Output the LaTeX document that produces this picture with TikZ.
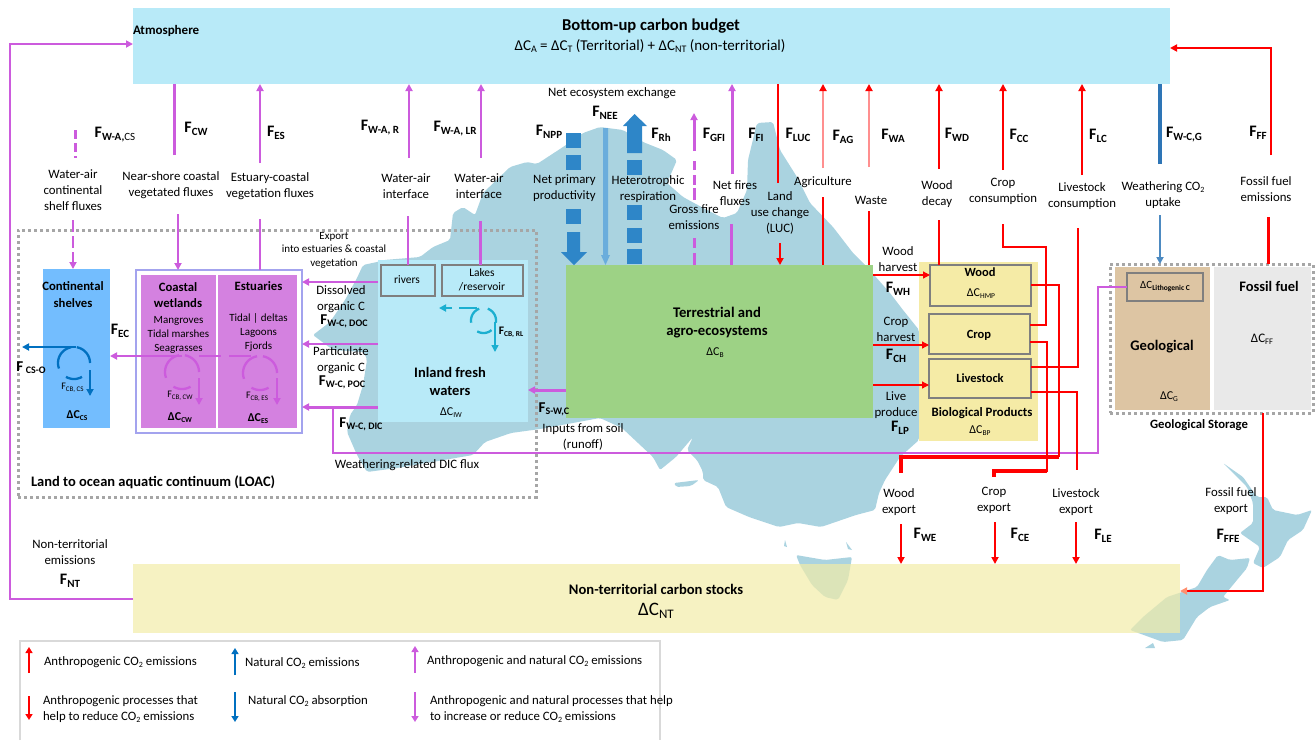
\documentclass[tikz,border=0pt]{standalone}
\usepackage{fontspec}
\setmainfont{Carlito}
\usetikzlibrary{arrows.meta,calc}
\definecolor{atmc}{HTML}{B8EAF8}
\definecolor{mapc}{HTML}{AAD3E0}
\definecolor{greenc}{HTML}{9DD285}
\definecolor{bpc}{HTML}{F5EBA6}
\definecolor{ntc}{HTML}{F2ECA8}
\definecolor{puc}{HTML}{CC5BDD}
\definecolor{bluec}{HTML}{2E86C8}
\definecolor{lblue}{HTML}{6AADDC}
\definecolor{shelfc}{HTML}{73BDFE}
\definecolor{wetc}{HTML}{D481E0}
\definecolor{framec}{HTML}{A3A3EE}
\definecolor{grayc}{HTML}{7F7F7F}
\definecolor{dotc}{HTML}{A6A6A6}
\definecolor{geoc}{HTML}{DDC5A3}
\definecolor{fossc}{HTML}{E9E9E9}
\definecolor{palered}{HTML}{FF8F8F}
\definecolor{tealc}{HTML}{1BAFD0}
\definecolor{wblue}{HTML}{2E75B6}
\definecolor{orangetip}{HTML}{FF9070}
\definecolor{legc}{HTML}{D9D9D9}
\definecolor{legblue}{HTML}{0070C0}
\newcommand{\FX}[1]{{\bfseries\fontsize{16}{16}\selectfont F\raisebox{-3pt}{\fontsize{11}{11}\selectfont #1}}}
\newcommand{\FS}[1]{{\fontsize{10}{10}\selectfont F\raisebox{-2pt}{\fontsize{7}{7}\selectfont #1}}}
\newcommand{\DC}[1]{{\fontsize{12}{12}\selectfont ΔC\raisebox{-2pt}{\fontsize{7.5}{7.5}\selectfont #1}}}
\newcommand{\COtwo}{CO\raisebox{-2pt}{\fontsize{8}{8}\selectfont 2}}
\newcounter{fs}
\newcommand{\seg}[5]{\stepcounter{fs}\coordinate (fa\thefs) at (#2,#3);\coordinate (fb\thefs) at (#4,#5);\draw[#1] (fa\thefs) -- (fb\thefs);}
\newcommand{\vc}[5]{\coordinate (#2) at (#3,#4);\draw[#1] (#2) -- (#5 -| #2);}
\newcommand{\hc}[5]{\coordinate (#2) at (#3,#4);\draw[#1] (#2) -- (#5 |- #2);}
\newcommand{\bxn}[6]{\node[#1,minimum width={(#5-#3)*1pt},minimum height={(#6-#4)*1pt}] (#2) at ({(#3+#5)/2},{(#4+#6)/2}) {};}
\newcommand{\tx}[4]{\node[txt] (#1) at (#2,#3) {#4};}
\newcommand{\cyc}[6]{\draw[#1,line width=2.3pt,domain=#5:#6,samples=14] plot ({#2+#4*cos(\x)},{#3-#4*sin(\x)});}
\tikzset{
  x=1pt,y=-1pt,
  every node/.style={inner sep=0pt,outer sep=0pt},
  txt/.style={font=\fontsize{12.8}{16}\selectfont,align=center,text=black},
  small/.style={font=\fontsize{11}{13.5}\selectfont,align=center,text=black},
  boldt/.style={font=\bfseries\fontsize{12.7}{16.5}\selectfont,align=center,text=black},
  grayb/.style={draw=grayc,line width=2.5pt,fill=#1},
  ptip/.style={-{Triangle[length=7pt,width=7pt]}},
  pu/.style={puc,line width=2.3pt},
  pua/.style={pu,ptip},
  puf/.style={puc,line width=3pt},
  rd/.style={red,line width=2pt},
  rda/.style={rd,-{Triangle[length=7pt,width=7pt]}},
  rdthin/.style={red,line width=1.2pt},
  rdthina/.style={rdthin,-{Triangle[length=7pt,width=7pt]}},
  rdthick/.style={red,line width=3.4pt},
  pale/.style={palered,line width=1.8pt,-{Triangle[length=7pt,width=7pt,color=red]}},
  dotb/.style={draw=dotc,line width=3pt,dash pattern=on 3pt off 3pt},
  lg/.style={line width=2.2pt,-{Triangle[length=6pt,width=7pt]}},
  leg/.style={font=\fontsize{12.8}{16}\selectfont,anchor=west,align=left},
  landm/.style={fill=mapc,rounded corners=2pt},
}
\begin{document}
\begin{tikzpicture}
\useasboundingbox (0,0) rectangle (1315,740);
% ---- map ----
\fill[landm] (377,262)--(384,260)--(420,257)--(433,247)--(450,240)--(453,213)--(463,207)--(475,215)--(483,193)--(510,167)--(527,162)--(537,164)--(563,147)--(583,133)--(600,127)--(623,130)--(643,142)--(663,150)--(677,160)--(667,183)--(683,197)--(707,210)--(723,218)--(737,213)--(747,190)--(748,160)--(757,123)--(773,122)--(780,150)--(797,177)--(810,203)--(833,227)--(853,253)--(867,267)--(890,293)--(903,310)--(919,330)--(919,440)--(900,457)--(885,480)--(879,493)--(875,510)--(856,515)--(821,527)--(798,523)--(779,527)--(749,517)--(726,507)--(718,487)--(703,480)--(703,472)--(697,460)--(687,450)--(693,437)--(676,457)--(660,470)--(653,457)--(638,443)--(622,428)--(600,418)--(540,429)--(511,433)--(485,442)--(473,455)--(397,468)--(367,472)--(357,455)--(347,432)--(350,415)--(357,405)--(363,385)--(367,360)--(364,352)--(333,350)--(313,335)--(330,322)--(345,300)--(357,278)--(363,265)--cycle;
\fill[landm] (674,483)--(699,480)--(691,486)--(676,487)--cycle;
\fill[mapc] (785,540)--(787,547)--(784,546)--cycle;
\fill[mapc] (846,542)--(852,550)--(848,549)--cycle;
\fill[landm] (796,555)--(825,560)--(852,557)--(848,580)--(838,600)--(825,597)--(812,585)--(800,565)--cycle;
\fill[landm] (1223,463)--(1243,477)--(1257,497)--(1267,497)--(1273,510)--(1297,515)--(1312,510)--(1303,530)--(1288,540)--(1280,557)--(1263,568)--(1253,563)--(1260,547)--(1240,533)--(1253,523)--(1253,503)--(1247,487)--(1228,468)--cycle;
\fill[landm] (1218,555)--(1230,560)--(1250,558)--(1247,568)--(1237,580)--(1223,597)--(1230,600)--(1210,607)--(1197,617)--(1183,640)--(1163,642)--(1130,630)--(1143,617)--(1167,597)--(1197,587)--(1207,570)--cycle;
\fill[mapc] (1145,648)--(1153,643)--(1155,648)--cycle;
% ---- boxes ----
\bxn{fill=atmc}{atm}{133}{8}{1170}{84}
\bxn{fill=ntc,fill opacity=.7}{ntb}{133}{564}{1180}{633}
\bxn{fill=atmc}{inl}{378}{260}{528}{422}
\bxn{fill=greenc}{terr}{566}{265}{873}{418}
\bxn{fill=bpc}{bio}{919}{262}{1038}{441}
\bxn{fill=shelfc}{shelf}{43}{269}{110}{428}
\bxn{draw=framec,line width=2.5pt,fill=white}{vegf}{136}{270}{302}{433}
\bxn{fill=wetc}{wet}{141}{275}{216}{428}
\bxn{fill=wetc}{est}{218}{275}{297}{428}
\bxn{grayb=atmc}{riv}{381}{265}{435}{296}
\bxn{grayb=atmc}{lake}{442}{265}{523}{296}
\bxn{grayb=bpc}{wood}{930}{265}{1031}{306}
\bxn{grayb=bpc}{crop}{929}{314}{1030}{354}
\bxn{grayb=bpc}{live}{929}{359}{1031}{398}
\bxn{fill=geoc}{geo}{1115}{267}{1210}{410}
\bxn{fill=fossc}{foss}{1214}{267}{1311}{410}
\bxn{grayb=geoc}{lith}{1127}{273}{1203}{301}
\bxn{dotb}{loac}{18}{230}{536}{497}
\bxn{dotb}{gstore}{1110}{264}{1313}{413}
% ---- left return line ----
\coordinate (ntA) at (10,599);\coordinate (ntB) at (10,44);
\draw[pu,ptip] (ntb.west |- ntA) -- (ntA) -- (ntB) -- (atm.west |- ntB);
% ---- water-air fluxes ----
\seg{puf,dash pattern=on 9pt off 4pt}{75}{130}{75}{158}
\vc{pu,ptip,dash pattern=on 12pt off 4pt}{lcs}{73}{220}{shelf.north}
\vc{pu,line width=3pt}{ucw}{174}{155}{atm.south}
\vc{pua}{lcw}{178}{214}{vegf.north}
\vc{pua}{ues}{260}{163}{atm.south}
\vc{pu}{les}{260}{219}{vegf.north}
\vc{pua}{ur}{409}{158}{atm.south}
\vc{pu}{lr}{408}{216}{riv.north}
\vc{pua}{ulr}{481}{158}{atm.south}
\vc{puf}{llr}{480}{221}{lake.north}
% ---- lateral ----
\hc{pua}{doc}{378}{282}{vegf.east}
\hc{pua}{poc}{378}{344}{vegf.east}
\hc{pua,line width=3pt}{dic}{378}{407}{vegf.east}
\coordinate (wrA) at (1098,287);\coordinate (wrB) at (1098,453);\coordinate (wrC) at (333,453);\coordinate (wrD) at (333,407);
\draw[pu] (lith.west |- wrA) -- (wrA) -- (wrB) -- (wrC) -- (wrD);
\coordinate (sw) at (566,390);
\draw[pua,line width=3pt] (terr.west |- sw) -- (inl.east |- sw);
% ---- carbon burial cycles ----
\coordinate (ecR) at (182,356);
\draw[pua] (ecR) -- (shelf.east |- ecR);
\seg{pu}{199}{356}{221}{356}
\seg{pu}{229}{356}{251}{356}
\cyc{puc}{182}{372}{17}{100}{200}
\cyc{puc}{182}{372}{17}{240}{300}
\cyc{puc}{182}{372}{17}{80}{0}
\seg{pu,line width=1.8pt,ptip}{199}{378}{199}{405}
\cyc{puc}{260}{373}{17}{100}{200}
\cyc{puc}{260}{373}{17}{240}{300}
\cyc{puc}{260}{373}{17}{80}{0}
\seg{pu,line width=1.8pt,ptip}{277}{378}{277}{405}
\cyc{legblue}{74}{363}{16}{100}{200}
\cyc{legblue}{74}{363}{16}{240}{300}
\cyc{legblue}{74}{363}{16}{80}{0}
\seg{legblue,line width=2.3pt,ptip}{90}{370}{90}{396}
\seg{legblue,line width=2.5pt,ptip}{76}{347}{22}{347}
\cyc{tealc}{483.5}{320.5}{12.5}{110}{190}
\cyc{tealc}{483.5}{320.5}{12.5}{240}{310}
\cyc{tealc}{483.5}{320.5}{12.5}{70}{-10}
\seg{tealc,line width=2.3pt}{459}{308}{477}{308}
\seg{tealc,line width=2.3pt,ptip}{452}{308}{439}{308}
\seg{tealc,line width=1.6pt,ptip}{495}{322}{495}{352}
% ---- NPP / Rh / NEE ----
\foreach \a/\b in {133/148,155/170,209/224}{\fill[bluec] (566,\a) rectangle (581,\b);}
\fill[bluec] (567,232)--(580,232)--(580,252)--(587,252)--(574,265)--(561,252)--(567,252)--cycle;
\foreach \a/\b in {160/175,205/220,228/243,249/264}{\fill[bluec] (627,\a) rectangle (642,\b);}
\fill[bluec] (627,153)--(642,153)--(642,126)--(647,126)--(634.5,114)--(623,126)--(627,126)--cycle;
\fill[lblue] (603,128)--(608,128)--(608,255)--(610,255)--(605.5,265)--(601,255)--(603,255)--cycle;
% ---- fire ----
\seg{pu,line width=3pt,ptip}{694}{151}{694}{113}
\seg{puf}{694}{161}{694}{170}
\seg{puf}{694}{175}{694}{185}
\seg{puf}{694}{188}{694}{200}
\seg{puf}{694}{238}{694}{248}
\vc{puf}{lgf}{694}{253}{terr.north}
\vc{pu,line width=3pt,ptip}{ufi}{732}{174}{atm.south}
\vc{puf}{lfi}{731}{224}{terr.north}
% ---- red emissions ----
\vc{rd}{uluc}{778}{183}{atm.south}
\vc{rda}{lluc}{780}{243}{terr.north}
\vc{pale}{uag}{823}{168}{atm.south}
\vc{rdthin}{lag}{823}{197}{terr.north}
\vc{pale}{uwa}{869}{167}{atm.south}
\vc{rdthin}{lwa}{869}{211}{terr.north}
\vc{rda}{uwd}{939}{169}{atm.south}
\vc{rd}{lwd}{939}{220}{wood.north}
\vc{rda}{ucc}{1003}{170}{atm.south}
\vc{rda}{ulc}{1082}{175}{atm.south}
\coordinate (ccA) at (1003,224);\coordinate (ccB) at (1003,247);\coordinate (ccC) at (1046,247);\coordinate (ccD) at (1046,325);
\draw[rd] (ccA) -- (ccB) -- (ccC) -- (ccD) -- (crop.east |- ccD);
\coordinate (lcA) at (1078,228);\coordinate (lcB) at (1078,367);
\draw[rd] (lcA) -- (lcB) -- (live.east |- lcB);
\vc{wblue,line width=3.6pt}{uwg}{1160}{164}{atm.south}
\vc{wblue!85!white,line width=2pt,ptip}{lwg}{1160}{215}{gstore.north}
\coordinate (ffA) at (1271,155);\coordinate (ffB) at (1271,48);
\draw[rda] (ffA) -- (ffB) -- (atm.east |- ffB);
\vc{rd,line width=3pt}{lff}{1268}{217}{gstore.north}
% ---- harvest ----
\hc{rdthina}{wh}{873}{275}{wood.west}
\hc{rdthina}{ch}{873}{345}{crop.west}
\hc{rdthina}{lp}{873}{385}{live.west}
% ---- exports ----
\coordinate (weA) at (1059,285);\coordinate (weB) at (1059,457);\coordinate (weC) at (901,457);\coordinate (weD) at (901,473);
\draw[rd] (wood.east |- weA) -- (weA) -- (weB);
\draw[rdthick] (weB) -- (weC) -- (weD);
\coordinate (ceA) at (1047,342);\coordinate (ceB) at (1047,471);\coordinate (ceC) at (994,471);\coordinate (ceD) at (994,477);
\draw[rd] (crop.east |- ceA) -- (ceA) -- (ceB) -- (ceC);
\draw[rdthick] (ceB) -- (ceC) -- (ceD);
\coordinate (leA) at (1077,392);\coordinate (leB) at (1077,470);
\draw[rd] (live.east |- leA) -- (leA) -- (leB);
\vc{rda}{we}{901}{524}{ntb.north}
\vc{rda}{ce}{995}{522}{ntb.north}
\vc{rda}{le}{1076}{522}{ntb.north}
\coordinate (ffeA) at (1263,413);\coordinate (ffeB) at (1263,591);
\draw[red,line width=2.5pt,-{Triangle[length=7pt,width=7pt,color=orangetip]}] (gstore.south -| ffeA) -- (ffeB) -- (ntb.east |- ffeB);
% ---- legend ----
\coordinate (lgA) at (20,740);\coordinate (lgB) at (20,641);\coordinate (lgC) at (660,641);\coordinate (lgD) at (660,740);
\draw[legc,line width=2pt] (lgA) -- (lgB) -- (lgC) -- (lgD);
\seg{red,lg}{29}{673}{29}{647}
\seg{legblue,lg}{235}{675}{235}{648}
\seg{puc,lg}{415}{673}{415}{646}
\seg{red,lg}{29}{696}{29}{720}
\seg{legblue,lg}{235}{692}{235}{722}
\seg{puc,lg}{415}{692}{415}{722}
% ---- top text ----
\node[font=\bfseries\fontsize{16.6}{16.6}\selectfont] (t1) at (651,26) {Bottom-up carbon budget};
\node[font=\fontsize{15}{15}\selectfont] (t2) at (650,46) {ΔC\raisebox{-2pt}{\fontsize{10}{10}\selectfont A} = ΔC\raisebox{-2pt}{\fontsize{10}{10}\selectfont T} (Territorial) + ΔC\raisebox{-2pt}{\fontsize{10}{10}\selectfont NT} (non-territorial)};
\node[font=\bfseries\fontsize{13}{13}\selectfont,anchor=west] (t3) at (133,31) {Atmosphere};
\node[font=\bfseries\fontsize{14.6}{14.6}\selectfont] (n1) at (656,589) {Non-territorial carbon stocks};
\node[font=\fontsize{19}{19}\selectfont] (n2) at (656,611) {ΔC\raisebox{-3pt}{\fontsize{13}{13}\selectfont NT}};
% ---- flux symbols ----
\tx{f01}{115}{135}{\FX{W-A,{\mdseries CS}}}
\tx{f02}{196}{129}{\FX{CW}}
\tx{f03}{276}{133}{\FX{ES}}
\tx{f04}{380}{128}{\FX{W-A, R}}
\tx{f05}{455}{129}{\FX{W-A, LR}}
\tx{f06}{549}{132}{\FX{NPP}}
\tx{f07}{605}{113}{\FX{NEE}}
\tx{f08}{661}{135}{\FX{Rh}}
\tx{f09}{714}{135}{\FX{GFI}}
\tx{f10}{756}{135}{\FX{FI}}
\tx{f11}{798}{135}{\FX{LUC}}
\tx{f12}{843}{137}{\FX{AG}}
\tx{f13}{893}{136}{\FX{WA}}
\tx{f14}{957}{135}{\FX{WD}}
\tx{f15}{1019}{136}{\FX{CC}}
\tx{f16}{1098}{136}{\FX{LC}}
\tx{f17}{1184}{135}{\FX{W-C,G}}
\tx{f18}{1258}{133}{\FX{FF}}
\tx{f19}{898}{289}{\FX{WH}}
\tx{f20}{896}{356}{\FX{CH}}
\tx{f21}{900}{428}{\FX{LP}}
\tx{f22}{925}{535}{\FX{WE}}
\tx{f23}{1020}{535}{\FX{CE}}
\tx{f24}{1103}{536}{\FX{LE}}
\tx{f25}{1228}{536}{\FX{FFE}}
\tx{f26}{70}{581}{\FX{NT}}
\node[text=black] (f27) at (120,331) {\FX{EC}};
\node[text=black] (f28) at (31,368) {{\bfseries\fontsize{15}{15}\selectfont F\,\raisebox{-2pt}{\fontsize{10}{10}\selectfont CS-O}}};
\node[text=black] (f29) at (344,321) {{\bfseries\fontsize{15}{15}\selectfont F\raisebox{-2pt}{\fontsize{10}{10}\selectfont W-C, DOC}}};
\node[text=black] (f30) at (342,382) {{\bfseries\fontsize{15}{15}\selectfont F\raisebox{-2pt}{\fontsize{10}{10}\selectfont W-C, POC}}};
\node[text=black] (f31) at (361,424) {{\bfseries\fontsize{15}{15}\selectfont F\raisebox{-2pt}{\fontsize{10}{10}\selectfont W-C, DIC}}};
\node[text=black] (f32) at (554,409) {{\bfseries\fontsize{15}{15}\selectfont F\raisebox{-2pt}{\fontsize{10}{10}\selectfont S-W,C}}};
% ---- process labels ----
\tx{p01}{73}{190}{Water-air\\continental\\shelf fluxes}
\tx{p02}{171}{185}{Near-shore coastal\\vegetated fluxes}
\tx{p03}{270}{186}{Estuary-coastal\\vegetation fluxes}
\tx{p04}{406}{186}{Water-air\\interface}
\tx{p05}{479}{186}{Water-air\\interface}
\tx{p06}{612}{93}{Net ecosystem exchange}
\tx{p07}{564.5}{188}{Net primary\\productivity}
\tx{p08}{648}{189}{Heterotrophic\\respiration}
\tx{p09}{694}{217}{Gross fire\\emissions}
\tx{p10}{735}{193}{Net fires\\fluxes}
\tx{p11}{780}{213}{Land\\use change\\(LUC)}
\tx{p12}{823}{182}{Agriculture}
\tx{p13}{871}{200}{Waste}
\tx{p14}{937}{194}{Wood\\decay}
\tx{p15}{1003}{191}{Crop\\consumption}
\tx{p16}{1082}{196}{Livestock\\consumption}
\tx{p17}{1163}{195}{Weathering \COtwo\\uptake}
\tx{p18}{1266}{189}{Fossil fuel\\emissions}
\tx{p19}{898}{259}{Wood\\harvest}
\tx{p20}{896}{329.5}{Crop\\harvest}
\tx{p21}{896}{405.5}{Live\\produce}
\tx{p22}{899}{502}{Wood\\export}
\tx{p23}{994}{500}{Crop\\export}
\tx{p24}{1076}{502}{Livestock\\export}
\tx{p25}{1231}{501.5}{Fossil fuel\\export}
\tx{p26}{70}{552}{Non-territorial\\emissions}
\tx{p27}{341}{299}{Dissolved\\organic C}
\tx{p28}{341}{360}{Particulate\\organic C}
\tx{p29}{407}{465}{Weathering-related DIC flux}
\tx{p30}{583}{436.5}{Inputs from soil\\(runoff)}
\node[small] (p31) at (334,250) {Export\\into estuaries \& coastal\\vegetation};
% ---- box labels ----
\node[boldt] (b01) at (73,294.5) {Continental\\shelves};
\node[boldt] (b02) at (178,295) {Coastal\\wetlands};
\node[boldt] (b03) at (258.5,286) {Estuaries};
\node[txt,font=\fontsize{11}{14}\selectfont] (b04) at (178.5,335) {Mangroves\\Tidal marshes\\Seagrasses};
\node[txt,font=\fontsize{11}{14}\selectfont] (b05) at (258.5,332.5) {Tidal | deltas\\Lagoons\\Fjords};
\node[text=black] (b06) at (72.5,388) {\FS{CB, CS}};
\node[text=black] (b07) at (180,395.5) {\FS{CB, CW}};
\node[text=black] (b08) at (257,397) {\FS{CB, ES}};
\node[text=black,font=\bfseries] (b09) at (77,416) {\DC{CS}};
\node[text=black,font=\bfseries] (b10) at (180,418) {\DC{CW}};
\node[text=black,font=\bfseries] (b11) at (258,419) {\DC{ES}};
\node[font=\bfseries\fontsize{14.5}{14.5}\selectfont,anchor=west] (b12) at (31,482) {Land to ocean aquatic continuum (LOAC)};
\node[txt,font=\fontsize{11.5}{14}\selectfont] (b13) at (407,280) {rivers};
\node[txt,font=\fontsize{11.5}{14}\selectfont] (b14) at (482,280) {Lakes\\/reservoir};
\node[text=black] (b15) at (511,332) {{\fontsize{11.5}{11.5}\selectfont\bfseries F\raisebox{-2pt}{\fontsize{7.5}{7.5}\selectfont CB, RL}}};
\node[font=\bfseries\fontsize{14.5}{18}\selectfont,align=center] (b16) at (450,381) {Inland fresh\\waters};
\node (b17) at (451,413) {\DC{IW}};
\node[font=\bfseries\fontsize{14.7}{18}\selectfont,align=center] (b18) at (717,323) {Terrestrial and\\agro-ecosystems};
\node (b19) at (715,353) {\DC{B}};
\node[font=\bfseries\fontsize{12.5}{12.5}\selectfont] (b20) at (980,272) {Wood};
\node (b21) at (981,294) {\DC{HMP}};
\node[font=\bfseries\fontsize{12.5}{12.5}\selectfont] (b22) at (979,335) {Crop};
\node[font=\bfseries\fontsize{12.5}{12.5}\selectfont] (b23) at (980,378) {Livestock};
\node[font=\bfseries\fontsize{12.8}{12.8}\selectfont] (b24) at (982,413) {Biological Products};
\node (b25) at (980,431) {\DC{BP}};
\node (b26) at (1165,287) {{\fontsize{11}{11}\selectfont ΔC\raisebox{-2pt}{\bfseries\fontsize{7.5}{7.5}\selectfont Lithogenic C}}};
\node[font=\bfseries\fontsize{14.6}{14.6}\selectfont] (b27) at (1162,347) {Geological};
\node (b28) at (1169,397) {\DC{G}};
\node[font=\bfseries\fontsize{14.5}{14.5}\selectfont] (b29) at (1269,286) {Fossil fuel};
\node (b30) at (1262,339) {{\fontsize{13}{13}\selectfont ΔC\raisebox{-2pt}{\fontsize{8.5}{8.5}\selectfont FF}}};
\node[font=\bfseries\fontsize{12.7}{12.7}\selectfont] (b31) at (1199,425) {Geological Storage};
% ---- legend text ----
\node[leg] (g1) at (44,662) {Anthropogenic \COtwo{} emissions};
\node[leg] (g2) at (245,663) {Natural \COtwo{} emissions};
\node[leg] (g3) at (427,661) {Anthropogenic and natural \COtwo{} emissions};
\node[leg] (g4) at (43,709) {Anthropogenic processes that\\help to reduce \COtwo{} emissions};
\node[leg] (g5) at (248,701) {Natural \COtwo{} absorption};
\node[leg] (g6) at (430,709) {Anthropogenic and natural processes that help\\to increase or reduce \COtwo{} emissions};
\end{tikzpicture}
\end{document}
